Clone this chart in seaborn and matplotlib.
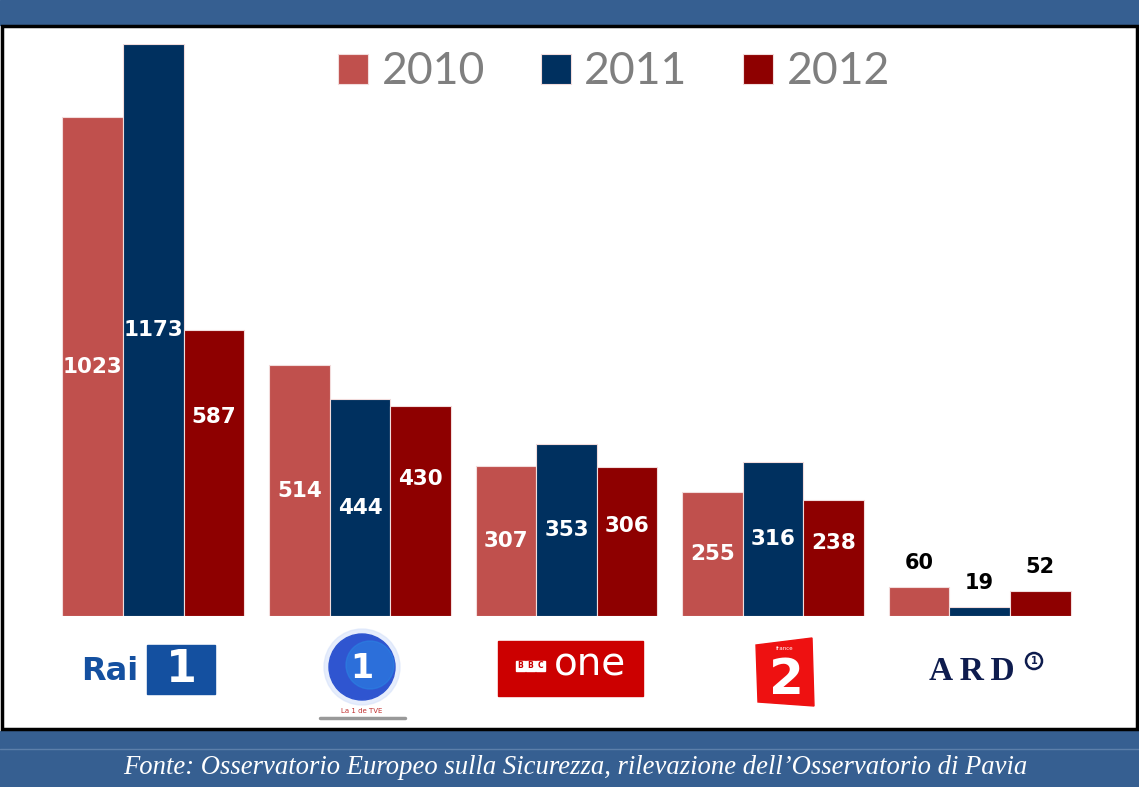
import numpy as np
import pandas as pd
import matplotlib
matplotlib.use("Agg")
import matplotlib.pyplot as plt
import seaborn as sns
from matplotlib.patches import Rectangle, Circle, Polygon

# data
channels = ["Rai 1", "La 1 TVE", "BBC One", "France 2", "ARD"]
years = ["2010", "2011", "2012"]
values_2010 = [1023, 514, 307, 255, 60]
values_2011 = [1173, 444, 353, 316, 19]
values_2012 = [587, 430, 306, 238, 52]

colors = ["#C0504D", "#00305F", "#8E0000"]
header_blue = "#365F91"

W, H = 1139, 787


def build_frame():
    rows = []
    for yr, vals in zip(years, [values_2010, values_2011, values_2012]):
        for ch, v in zip(channels, vals):
            rows.append({"channel": ch, "year": yr, "value": v})
    return pd.DataFrame(rows)


def draw_frame(fig):
    """Blue header/footer bands and the black box around the chart."""
    deco = fig.add_axes([0, 0, 1, 1], zorder=-5)
    deco.set_xlim(0, W)
    deco.set_ylim(H, 0)
    deco.axis("off")
    deco.add_patch(Rectangle((0, 0), W, 25, color=header_blue))
    deco.add_patch(Rectangle((0, 731), W, H - 731, color=header_blue))
    deco.plot([0, W], [749, 749], color="#5C7FAA", lw=1)
    deco.add_patch(Rectangle((1.5, 26), W - 3.5, 703, fill=False,
                             edgecolor="black", lw=2.5))
    deco.text(W / 2 + 6, 767,
              "Fonte: Osservatorio Europeo sulla Sicurezza, "
              "rilevazione dell\u2019Osservatorio di Pavia",
              color="white", fontsize=19.2, style="italic",
              family="Liberation Serif", ha="center", va="center")
    return deco


def draw_logos(fig):
    """Rough text/shape stand-ins for the channel logos."""
    lg = fig.add_axes([0, 0, 1, 1], zorder=5)
    lg.set_xlim(0, W)
    lg.set_ylim(H, 0)
    lg.axis("off")

    # Rai 1
    lg.text(110, 671, "Rai", color="#1450A0", fontsize=23, weight="bold",
            ha="center", va="center")
    lg.add_patch(Rectangle((147, 645), 68, 49, color="#1450A0"))
    lg.text(181, 670, "1", color="white", fontsize=32, weight="bold",
            ha="center", va="center")

    # La 1 (TVE)
    lg.add_patch(Circle((362, 667), 38, color="#D6E2FA", alpha=0.6))
    lg.add_patch(Circle((362, 667), 33, color="#2F55D0"))
    lg.add_patch(Circle((370, 665), 24, color="#2A82E2", alpha=0.6))
    lg.text(362, 669, "1", color="white", fontsize=24, weight="bold",
            ha="center", va="center")
    lg.text(362, 711, "La 1 de TVE", color="#C03030", fontsize=5,
            ha="center", va="center")
    lg.plot([320, 405], [718, 718], color="#999999", lw=2.5)

    # BBC One
    lg.add_patch(Rectangle((498, 641), 145, 55, color="#CC0000"))
    for i, ch in enumerate("BBC"):
        lg.add_patch(Rectangle((516 + i * 10, 661), 9, 10, color="white"))
        lg.text(520.5 + i * 10, 666, ch, color="#CC0000", fontsize=5.5,
                weight="bold", ha="center", va="center")
    lg.text(590, 665, "one", color="white", fontsize=28, ha="center",
            va="center")

    # France 2
    lg.add_patch(Polygon([(756, 645), (812, 638), (814, 706), (758, 702)],
                         color="#EE1111"))
    lg.text(785, 648, "france", color="white", fontsize=4, ha="center",
            va="center")
    lg.text(786, 680, "2", color="white", fontsize=36, weight="bold",
            ha="center", va="center")

    # ARD
    lg.text(972, 671, "A\u2009R\u2009D", color="#0E1C4E", fontsize=24,
            weight="bold", family="Liberation Serif", ha="center",
            va="center")
    lg.add_patch(Circle((1034, 661), 8, fill=False, edgecolor="#0E1C4E",
                        lw=1.8))
    lg.text(1034, 661, "1", color="#0E1C4E", fontsize=7, weight="bold",
            ha="center", va="center")


def plot_bars(fig, df):
    ax = fig.add_axes([50 / W, (H - 616) / H, (1083 - 50) / W, (616 - 44) / H])
    sns.barplot(data=df, x="channel", y="value", hue="year",
                palette=colors, width=0.88, edgecolor="#F2DCDC",
                linewidth=0.8, saturation=1, ax=ax)
    ax.set_ylim(0, max(values_2011))
    ax.set_xlim(-0.5, len(channels) - 0.5)
    ax.set_xlabel("")
    ax.set_ylabel("")
    ax.set_xticks([])
    ax.set_yticks([])
    for s in ax.spines.values():
        s.set_visible(False)
    ax.patch.set_alpha(0)

    # value labels: white inside the bar, black above the tiny ARD ones
    lift_2012 = [40, 23, 11, 11, 0]
    for k, cont in enumerate(ax.containers):
        for j, bar in enumerate(cont):
            v = bar.get_height()
            x = bar.get_x() + bar.get_width() / 2
            if v < 100:
                ax.annotate(f"{int(v)}", (x, v), xytext=(0, 10),
                            textcoords="offset points", ha="center",
                            va="bottom", fontsize=15, weight="bold",
                            color="black")
            else:
                dy = lift_2012[j] if k == 2 else 0
                ax.annotate(f"{int(v)}", (x, v / 2), xytext=(0, dy),
                            textcoords="offset points", ha="center",
                            va="center", fontsize=15.5, weight="bold",
                            color="white")

    sns.move_legend(ax, "center", bbox_to_anchor=(614 / W, (H - 72) / H),
                    bbox_transform=fig.transFigure, ncol=3, frameon=False,
                    title=None, fontsize=32, handlelength=0.68,
                    handleheight=0.68, handletextpad=0.3, columnspacing=1.25)
    for t in ax.get_legend().get_texts():
        t.set_color("#7F7F7F")
        t.set_family("Lato")
    return ax


def main():
    sns.set_style("white")
    df = build_frame()
    fig = plt.figure(figsize=(W / 100, H / 100), dpi=100)
    draw_frame(fig)
    plot_bars(fig, df)
    draw_logos(fig)
    fig.savefig("out.png", dpi=100)


if __name__ == "__main__":
    main()
